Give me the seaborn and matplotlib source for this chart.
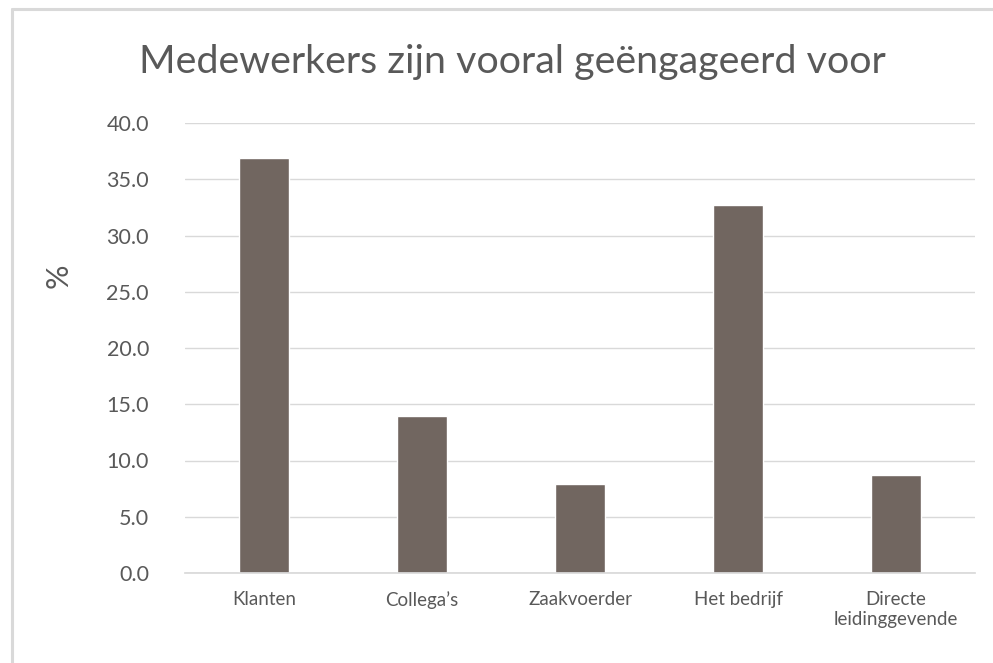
import matplotlib
matplotlib.use("Agg")
import matplotlib.pyplot as plt
import seaborn as sns
import pandas as pd
from matplotlib.lines import Line2D

categories = ["Klanten", "Collega\u2019s", "Zaakvoerder", "Het bedrijf", "Directe\nleidinggevende"]
values = [36.9, 14.0, 7.9, 32.7, 8.7]
yticks = [0, 5, 10, 15, 20, 25, 30, 35, 40]

df = pd.DataFrame({"cat": categories, "pct": values})

sns.set_theme(style="white")
plt.rcParams['font.family'] = ['Lato', 'DejaVu Sans']
text_col = '#595959'
grid_col = '#d9d9d9'

fig = plt.figure(figsize=(9.93, 6.63), dpi=100)
ax = fig.add_axes([185 / 993, 1 - 573 / 663, 790 / 993, 450 / 663])

sns.barplot(data=df, x="cat", y="pct", color='#716660', width=0.32,
            saturation=1, ax=ax, zorder=3)

ax.set_ylim(0, 40)
ax.set_yticks(yticks)
ax.set_yticklabels([f"{t:.1f}" for t in yticks], fontsize=15.5, color=text_col)
ax.tick_params(axis='x', length=0, pad=13)
ax.tick_params(axis='y', length=0, pad=26)
ax.yaxis.grid(True, color=grid_col, linewidth=1, zorder=0)
for s in ['top', 'right', 'left']:
    ax.spines[s].set_visible(False)
ax.spines['bottom'].set_color(grid_col)
ax.spines['bottom'].set_zorder(4)
ax.set_xlabel("")
ax.set_ylabel("%", fontsize=22, color=text_col)
ax.yaxis.set_label_coords(-0.142, 0.66)
for lab in ax.get_xticklabels():
    lab.set_color(text_col)
    lab.set_fontsize(13.5)

fig.text(512 / 993, 1 - 62 / 663, "Medewerkers zijn vooral ge\u00ebngageerd voor",
         ha='center', va='center', fontsize=28.4, color=text_col)

# outer frame: only top and left edges are visible in the crop
fig.lines.append(Line2D([11.5 / 993, 11.5 / 993], [0, 1 - 8.5 / 663], transform=fig.transFigure,
                        color='#d9d9d9', linewidth=2.2))
fig.lines.append(Line2D([11.5 / 993, 1], [1 - 8.5 / 663, 1 - 8.5 / 663], transform=fig.transFigure,
                        color='#d9d9d9', linewidth=2.2))

fig.savefig("out.png", dpi=100)
